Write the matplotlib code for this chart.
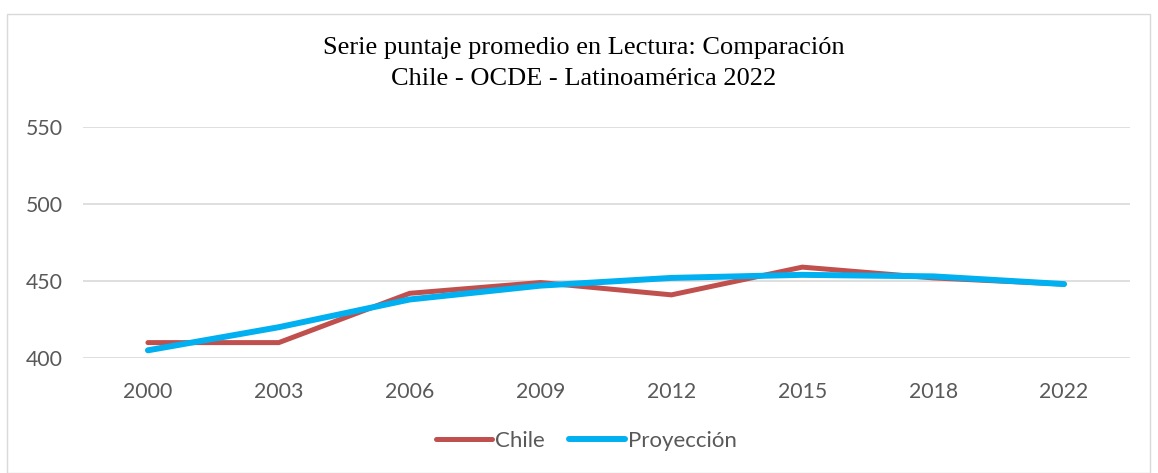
import matplotlib
matplotlib.use("Agg")
import matplotlib.pyplot as plt
from matplotlib.patches import Rectangle

years = ["2000", "2003", "2006", "2009", "2012", "2015", "2018", "2022"]
chile = [410, 410, 442, 449, 441, 459, 452, 448]
proyeccion = [405, 420, 438, 447, 452, 454, 453, 448]
yticks = [400, 450, 500, 550]

W, H = 1158, 473
fig = plt.figure(figsize=(W / 100, H / 100), dpi=100)
fig.patch.set_facecolor("white")

# outer chart frame
fig.patches.append(Rectangle((7 / W, 0), (1150 - 7) / W, (H - 14) / H,
                             transform=fig.transFigure, fill=False,
                             edgecolor="#d9d9d9", linewidth=1))

ax = fig.add_axes([82.5 / W, (H - 358) / H, 1047 / W, 231 / H])
x = list(range(len(years)))
ax.plot(x, chile, color="#c0504d", linewidth=3.6, solid_capstyle="round",
        solid_joinstyle="miter", label="Chile", zorder=3)
ax.plot(x, proyeccion, color="#00b0f0", linewidth=4.3, solid_capstyle="round",
        solid_joinstyle="miter", label="Proyección", zorder=4)

ax.set_xlim(-0.5, len(years) - 0.5)
ax.set_ylim(400, 550)
ax.set_yticks(yticks)
ax.set_xticks(x)
ax.set_xticklabels(years)
ax.yaxis.grid(True, color="#d9d9d9", linewidth=1.2)
ax.set_axisbelow(True)
for s in ax.spines.values():
    s.set_visible(False)
ax.tick_params(axis="both", length=0, labelsize=15.3, labelcolor="#595959")
ax.tick_params(axis="y", pad=14.4)
ax.tick_params(axis="x", pad=17)
for lab in ax.get_xticklabels() + ax.get_yticklabels():
    lab.set_fontfamily("Lato")

fig.text(584 / W, 1 - 48 / H, "Serie puntaje promedio en Lectura: Comparación",
         ha="center", va="center", fontsize=19, family="Liberation Serif", color="black")
fig.text(584 / W, 1 - 79 / H, "Chile - OCDE - Latinoamérica 2022",
         ha="center", va="center", fontsize=19, family="Liberation Serif", color="black")

leg = fig.legend(loc="center", bbox_to_anchor=(586.5 / W, 1 - 441 / H), ncol=2,
                 frameon=False, handlelength=2.5, handletextpad=0.15,
                 columnspacing=1.1, prop={"family": "Lato", "size": 16})
for t in leg.get_texts():
    t.set_color("#595959")

fig.savefig("out.png", dpi=100)
